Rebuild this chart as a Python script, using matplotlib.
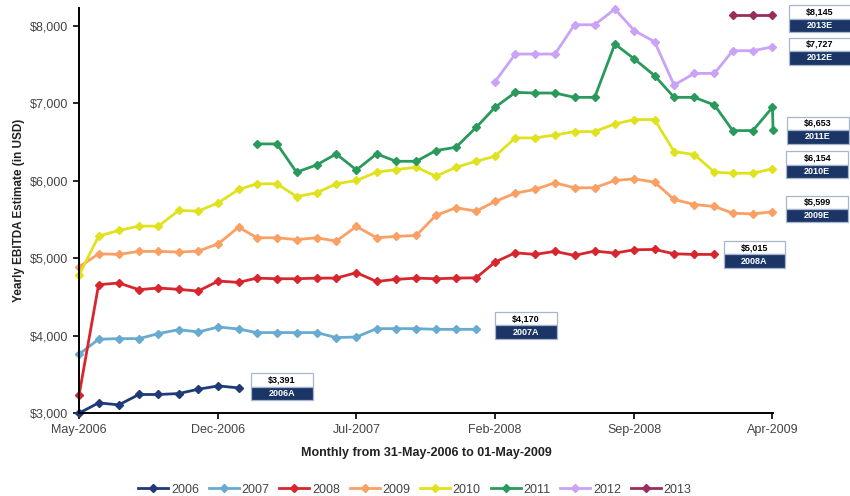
"""Monthly EBITDA estimates by fiscal year"""

import matplotlib
matplotlib.use('Agg')
import matplotlib.pyplot as plt
import matplotlib.dates as mdates
import matplotlib.ticker as mticker
import pandas as pd
import numpy as np
from matplotlib.offsetbox import DrawingArea, AnnotationBbox
from matplotlib.patches import Rectangle
from matplotlib.text import Text

plt.rcParams['font.family'] = ['Liberation Sans', 'DejaVu Sans']

# Month-end observation dates, plus the final 01-May-2009 reading
dates = list(pd.date_range('2006-05-31', periods=36, freq=pd.offsets.MonthEnd()))
dates.append(pd.Timestamp('2009-05-01'))

years = ['2006', '2007', '2008', '2009', '2010', '2011', '2012', '2013']
start_month = [0, 0, 0, 0, 0, 9, 21, 33]   # index of first estimate in dates
colors = ['#1f3a78', '#68abd0', '#d7262d', '#fba064', '#dfe21c',
          '#2a9a5c', '#caa2f6', '#9a2c5d']

est_2006 = [3000, 3133, 3107, 3241, 3241, 3253, 3309, 3352, 3326]
est_2007 = [3760, 3954, 3962, 3962, 4027, 4078, 4048, 4112, 4086, 4040, 4040,
            4040, 4040, 3976, 3983, 4091, 4091, 4091, 4082, 4082, 4082]
est_2008 = [3232, 4658, 4680, 4594, 4615, 4598, 4576, 4705, 4688, 4743, 4735,
            4735, 4743, 4743, 4813, 4700, 4727, 4743, 4735, 4743, 4747, 4950,
            5070, 5049, 5088, 5036, 5092, 5066, 5109, 5113, 5057, 5049, 5049]
est_2009 = [4885, 5057, 5049, 5088, 5088, 5079, 5092, 5186, 5401, 5264, 5264,
            5240, 5264, 5220, 5410, 5264, 5281, 5294, 5552, 5651, 5608, 5732,
            5839, 5887, 5973, 5909, 5909, 6003, 6024, 5981, 5758, 5693, 5668,
            5581, 5572, 5599]
est_2010 = [4778, 5285, 5358, 5414, 5414, 5616, 5608, 5715, 5887, 5960, 5960,
            5796, 5844, 5960, 6003, 6110, 6144, 6174, 6058, 6174, 6251, 6316,
            6552, 6552, 6590, 6634, 6634, 6733, 6789, 6789, 6376, 6338, 6110,
            6097, 6097, 6154]
est_2011 = [6475, 6475, 6110, 6204, 6346, 6139, 6346, 6251, 6251, 6389, 6432,
            6689, 6947, 7140, 7132, 7132, 7076, 7076, 7764, 7571, 7356, 7076,
            7076, 6977, 6647, 6647, 6947, 6653]
est_2012 = [7278, 7635, 7635, 7635, 8013, 8013, 8215, 7936, 7794, 7235, 7385,
            7385, 7678, 7678, 7727]
est_2013 = [8145, 8145, 8145]

series = [est_2006, est_2007, est_2008, est_2009, est_2010, est_2011,
          est_2012, est_2013]

# Tag boxes: value on top, year tag below; actuals use the reported figure
tag_values = [3391, 4170, 5015, 5599, 6154, 6653, 7727, 8145]
tag_names = ['2006A', '2007A', '2008A', '2009E', '2010E', '2011E', '2012E', '2013E']
tag_offsets = [(9, 0.7), (13.7, 2.9), (6.5, 0), (10, 2), (10, 3), (10, 0),
               (12, -3), (12, -3)]

fig = plt.figure(figsize=(8.5, 4.96), dpi=100)
ax = fig.add_axes([0.093, 0.167, 0.8165, 0.817])

handles = []
for year, start, vals, col in zip(years, start_month, series, colors):
    x = dates[start:start + len(vals)]
    ln, = ax.plot(x, vals, color=col, lw=2.0, marker='D', ms=4.2,
                  mec=col, mfc=col, clip_on=False, label=year)
    handles.append(ln)

for vals, start, val, name, (dx, dy) in zip(series, start_month, tag_values,
                                             tag_names, tag_offsets):
    last_x = mdates.date2num(dates[start + len(vals) - 1])
    w, h = 44.5, 19.4
    da = DrawingArea(w, h, 0, 0)
    da.add_artist(Rectangle((0, h / 2), w, h / 2, fc='white', ec='#a7b6cf', lw=0.9))
    da.add_artist(Rectangle((0, 0), w, h / 2, fc='#1b3566', ec='#a7b6cf', lw=0.9))
    da.add_artist(Text(w / 2, h * 0.75, '${:,}'.format(val), ha='center', va='center',
                       fontsize=6.5, fontweight='bold', color='black'))
    da.add_artist(Text(w / 2, h * 0.25, name, ha='center', va='center',
                       fontsize=6.5, fontweight='bold', color='white'))
    ab = AnnotationBbox(da, (last_x, vals[-1]), xybox=(dx, dy), xycoords='data',
                        boxcoords='offset points', box_alignment=(0, 0.5),
                        frameon=False, pad=0, annotation_clip=False)
    ax.add_artist(ab)

ax.set_ylim(3000, 8230)
ax.set_xlim(mdates.date2num(dates[0]), mdates.date2num(dates[-1]))
ax.set_yticks(np.arange(3000, 8001, 1000))
ax.yaxis.set_major_formatter(mticker.StrMethodFormatter('${x:,.0f}'))
ax.set_xticks([mdates.date2num(dates[i]) for i in range(0, 36, 7)])
ax.xaxis.set_major_formatter(mdates.DateFormatter('%b-%Y'))

for side in ['top', 'right']:
    ax.spines[side].set_visible(False)
for side in ['left', 'bottom']:
    ax.spines[side].set_linewidth(1.4)
ax.tick_params(direction='out', length=4, width=1.2, labelsize=9,
               labelcolor='#444444', pad=4)

ax.set_xlabel('Monthly from 31-May-2006 to 01-May-2009', fontsize=9,
              fontweight='bold', color='#222222', labelpad=8)
ax.set_ylabel('Yearly EBITDA Estimate (in USD)', fontsize=8.5,
              fontweight='bold', color='#222222', labelpad=3)

fig.legend(handles=handles, loc='lower center', bbox_to_anchor=(0.488, -0.022),
           ncol=8, frameon=False, fontsize=9, handlelength=2.4,
           handletextpad=0.2, columnspacing=0.8, labelcolor='#444444')

fig.savefig('out.png', dpi=100)
